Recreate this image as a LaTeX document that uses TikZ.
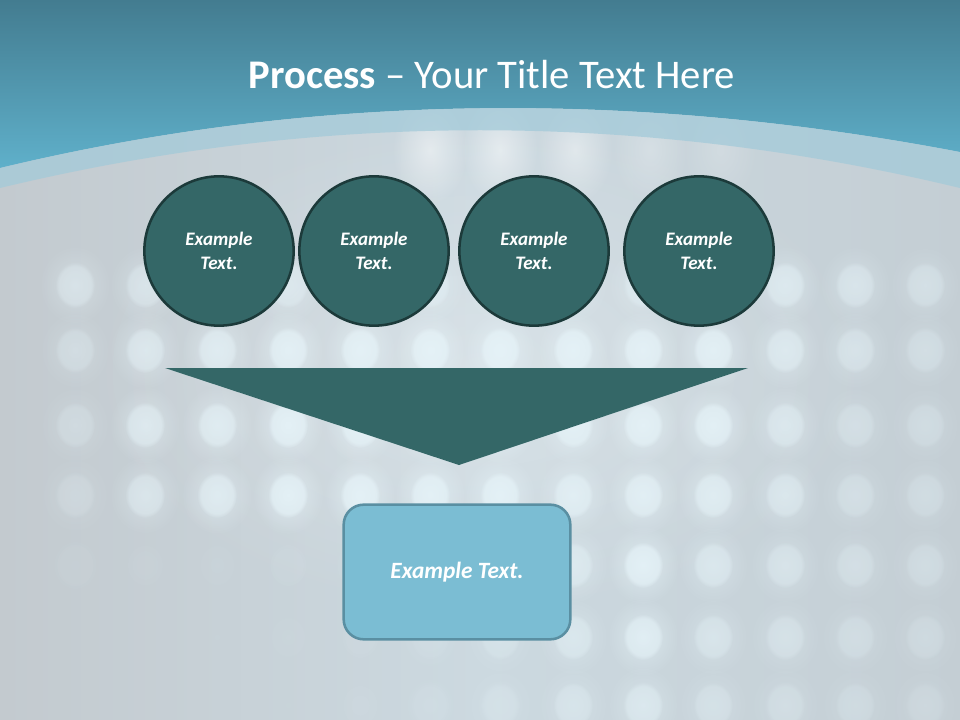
\documentclass[tikz,border=0pt]{standalone}
\usepackage{fontspec}
\setmainfont{Carlito}
\usetikzlibrary{fadings}
\definecolor{topA}{HTML}{437C90}
\definecolor{topB}{HTML}{5FB0CA}
\definecolor{stripc}{HTML}{A3CAD9}
\definecolor{grayL}{HTML}{C3CACF}
\definecolor{grayM}{HTML}{CCD9E0}
\definecolor{grayR}{HTML}{C4CED4}
\definecolor{dotc}{HTML}{EAF8FD}
\definecolor{circfill}{HTML}{346767}
\definecolor{circline}{HTML}{1C3A3A}
\definecolor{boxfill}{HTML}{7BBDD3}
\definecolor{boxline}{HTML}{5A8FA2}
\tikzfading[name=softdot, inner color=transparent!0, outer color=transparent!100]
\tikzset{
  stepcirc/.style={circle, draw=circline, line width=1.9pt, fill=circfill,
    minimum size=112pt, inner sep=0pt, align=center, text=white,
    font=\fontsize{14.3}{17.5}\selectfont\bfseries\itshape},
  resultbox/.style={rectangle, rounded corners=15pt, draw=boxline, line width=1.9pt,
    fill=boxfill, minimum width=170pt, minimum height=101pt, align=center,
    text=white, font=\fontsize{17.5}{21}\selectfont\bfseries\itshape}
}
\newcommand\dotrow[2]{%
  \foreach \x/\o in {#2}{%
    \fill[dotc, opacity=0.65*\o, path fading=softdot] (\x,#1) ellipse (36 and 40);
    \fill[dotc, opacity=0.6*\o, path fading=circle with fuzzy edge 20 percent] (\x,#1) ellipse (20 and 23);
  }}
\begin{document}
\begin{tikzpicture}[x=0.75pt,y=-0.75pt]
\useasboundingbox (0,0) rectangle (960,720);
% gray base
\shade[left color=grayL, right color=grayR, middle color=grayM] (0,0) rectangle (960,720);
\fill[white, opacity=0.25, path fading=softdot] (80,120) rectangle (880,620);
% bokeh grid
\dotrow{285}{75/.5,145/.5,217/.5,288/.5,360/.5,430/.5,500/.5,573/.5,643/.5,713/.5,785/.6,855/.5,925/.4}
\dotrow{350}{75/.35,145/.6,217/.7,288/.8,360/.8,430/.8,500/.8,573/.8,643/.8,713/.8,785/.6,855/.45,925/.35}
\dotrow{425}{75/.3,145/.65,217/.7,288/.85,360/.8,430/.8,500/.8,573/.75,643/.8,713/.8,785/.55,855/.35,925/.3}
\dotrow{495}{75/.25,145/.55,217/.7,288/.85,360/.85,430/.8,500/.8,573/.7,643/.75,713/.7,785/.55,855/.35,925/.3}
\dotrow{565}{75/.08,145/.06,217/.05,288/.08,360/.12,430/.25,500/.4,573/.55,643/.85,713/.55,785/.45,855/.35,925/.3}
\dotrow{637}{75/.03,145/.03,217/.04,288/.05,360/.08,430/.15,500/.3,573/.5,643/.75,713/.45,785/.4,855/.3,925/.25}
\dotrow{705}{75/.02,145/.02,217/.03,288/.04,360/.06,430/.12,500/.25,573/.4,643/.55,713/.35,785/.3,855/.25,925/.2}
% bright streaks under arc
\foreach \x/\o in {430/.8,500/.8,575/.7,650/.4,720/.3}{
  \fill[white, opacity=0.6*\o, path fading=softdot] (\x,150) ellipse (38 and 55);
}
% top band
\shade[top color=topA, bottom color=topB] (0,0) -- (960,0) -- (960,152) .. controls (640,91) and (320,91) .. (0,168) -- cycle;
% light strip
\fill[stripc, opacity=0.75] (0,168) .. controls (320,91) and (640,91) .. (960,152) -- (960,188) .. controls (640,111) and (320,111) .. (0,188) -- cycle;
% title
\node[text=white, font=\fontsize{30.5}{34}\selectfont] (title) at (492,75) {\textbf{Process} – Your Title Text Here};
% circles
\node[stepcirc] (c1) at (219,251) {Example\\Text.};
\node[stepcirc] (c2) at (374,251) {Example\\Text.};
\node[stepcirc] (c3) at (534,251) {Example\\Text.};
\node[stepcirc] (c4) at (699,251) {Example\\Text.};
% triangle
\coordinate (tl) at (165,368);
\coordinate (tr) at (748,368);
\coordinate (tp) at (459,465);
\fill[circfill] (tl) -- (tr) -- (tp) -- cycle;
% result box
\node[resultbox] (res) at (457,572) {Example Text.};
\end{tikzpicture}
\end{document}
